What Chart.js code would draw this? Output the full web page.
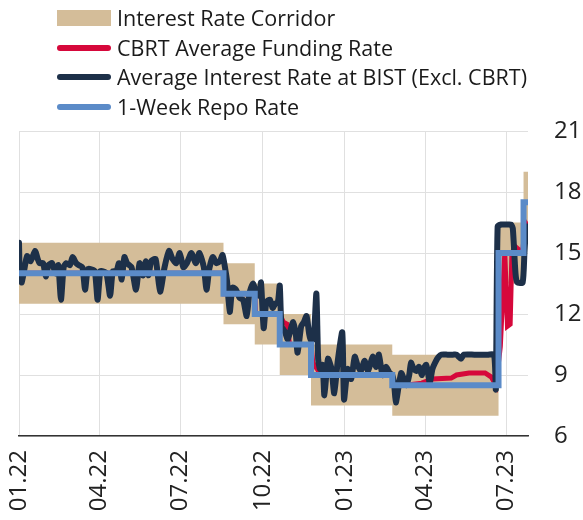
<!DOCTYPE html>
<html>
<head>
<meta charset="utf-8">
<title>Interest rates</title>
<script src="https://cdn.jsdelivr.net/npm/chart.js@4.4.0/dist/chart.umd.min.js"></script>
<style>
  body { margin: 0; background: #fff; }
  #wrap { position: relative; width: 583px; height: 520px; }
  #chart { position: absolute; left: 0; top: 0; }
  .leg { position: absolute; left: 57px; height: 28px; line-height: 28px; white-space: nowrap;
         font-family: 'Open Sans', sans-serif; font-size: 21.5px; color: #1a1a1a; }
  .leg span { position: absolute; left: 0; }
  .leg b { position: absolute; left: 60px; font-weight: normal; }
</style>
</head>
<body>
<div id="wrap">
  <canvas id="chart" width="583" height="520"></canvas>
  <div class="leg" style="top:4px"><span style="top:6px;width:54px;height:16px;background:#d4bd99"></span><b>Interest Rate Corridor</b></div>
  <div class="leg" style="top:34px"><span style="top:11px;width:54px;height:6px;border-radius:3px;background:#d6083b"></span><b>CBRT Average Funding Rate</b></div>
  <div class="leg" style="top:63px"><span style="top:11px;width:54px;height:6px;border-radius:3px;background:#1d3049"></span><b>Average Interest Rate at BIST (Excl. CBRT)</b></div>
  <div class="leg" style="top:93px"><span style="top:11px;width:54px;height:6px;border-radius:3px;background:#5b8bc8"></span><b>1-Week Repo Rate</b></div>
</div>
<script>
// policy steps (value holds until next date)
var stepDates = ['2022-01-01', '2022-08-18', '2022-09-22', '2022-10-20', '2022-11-24', '2023-02-23', '2023-06-22', '2023-07-20', '2023-07-25'];
var corridorLow = [12.5, 11.5, 10.5, 9, 7.5, 7, 13.5, 16, 16];
var corridorHigh = [15.5, 14.5, 13.5, 12, 10.5, 10, 16.5, 19, 19];
var repoRate = [14, 13, 12, 10.5, 9, 8.5, 15, 17.5, 17.5];

var fundingDates = ['2022-01-01', '2022-08-18', '2022-08-19', '2022-09-22', '2022-09-23', '2022-10-20', '2022-10-24', '2022-10-28', '2022-10-31',
  '2022-11-24', '2022-11-26', '2022-12-01', '2022-12-05', '2023-02-23', '2023-02-24', '2023-03-10', '2023-03-28', '2023-04-09', '2023-04-30',
  '2023-05-06', '2023-05-20', '2023-06-07', '2023-06-14', '2023-06-19', '2023-06-24', '2023-06-27', '2023-06-29', '2023-07-02', '2023-07-05',
  '2023-07-07', '2023-07-11', '2023-07-19', '2023-07-22', '2023-07-25'];
var fundingRate = [14, 14, 13, 13, 12, 12, 11.6, 11.5, 10.5,
  10.5, 9.6, 9.3, 9, 9, 8.5, 8.5, 8.6, 8.8, 8.85,
  9, 9.1, 9.1, 8.9, 8.5, 10.4, 13.2, 15, 11.4, 11.5,
  15, 15.3, 15, 16.5, 16.3];

var bistDates = ['2022-01-01', '2022-01-02', '2022-01-04', '2022-01-07', '2022-01-10', '2022-01-14', '2022-01-19', '2022-01-22', '2022-01-24', '2022-01-28',
  '2022-01-31', '2022-02-03', '2022-02-07', '2022-02-11', '2022-02-14', '2022-02-17', '2022-02-20', '2022-02-23', '2022-02-27', '2022-03-02',
  '2022-03-06', '2022-03-09', '2022-03-13', '2022-03-16', '2022-03-19', '2022-03-23', '2022-03-27', '2022-03-30', '2022-04-02', '2022-04-05',
  '2022-04-09', '2022-04-13', '2022-04-16', '2022-04-20', '2022-04-23', '2022-04-26', '2022-04-29', '2022-05-02', '2022-05-07', '2022-05-12',
  '2022-05-16', '2022-05-20', '2022-05-23', '2022-05-26', '2022-05-29', '2022-06-03', '2022-06-08', '2022-06-13', '2022-06-18', '2022-06-22',
  '2022-06-26', '2022-06-30', '2022-07-04', '2022-07-08', '2022-07-13', '2022-07-18', '2022-07-22', '2022-07-27', '2022-07-30', '2022-08-02',
  '2022-08-06', '2022-08-10', '2022-08-14', '2022-08-17', '2022-08-20', '2022-08-22', '2022-08-25', '2022-08-28', '2022-09-01', '2022-09-05',
  '2022-09-09', '2022-09-13', '2022-09-16', '2022-09-20', '2022-09-24', '2022-09-27', '2022-09-29', '2022-10-02', '2022-10-05', '2022-10-09',
  '2022-10-12', '2022-10-15', '2022-10-18', '2022-10-20', '2022-10-22', '2022-10-26', '2022-10-29', '2022-11-01', '2022-11-04', '2022-11-07',
  '2022-11-09', '2022-11-13', '2022-11-16', '2022-11-19', '2022-11-22', '2022-11-24', '2022-11-27', '2022-11-30', '2022-12-02', '2022-12-04',
  '2022-12-07', '2022-12-09', '2022-12-13', '2022-12-17', '2022-12-20', '2022-12-24', '2022-12-29', '2022-12-31', '2023-01-04', '2023-01-08',
  '2023-01-12', '2023-01-15', '2023-01-19', '2023-01-23', '2023-01-27', '2023-02-01', '2023-02-05', '2023-02-08', '2023-02-12', '2023-02-16',
  '2023-02-20', '2023-02-23', '2023-02-25', '2023-02-27', '2023-03-02', '2023-03-05', '2023-03-08', '2023-03-11', '2023-03-14', '2023-03-16',
  '2023-03-19', '2023-03-22', '2023-03-25', '2023-03-28', '2023-03-30', '2023-04-02', '2023-04-04', '2023-04-06', '2023-04-09', '2023-04-13',
  '2023-04-16', '2023-04-19', '2023-04-26', '2023-05-02', '2023-05-06', '2023-05-11', '2023-05-14', '2023-05-26', '2023-06-10', '2023-06-17',
  '2023-06-19', '2023-06-21', '2023-06-25', '2023-07-01', '2023-07-06', '2023-07-08', '2023-07-11', '2023-07-13', '2023-07-19', '2023-07-21',
  '2023-07-23', '2023-07-25'];
var bistRate = [15.5, 13.8, 13.55, 14.2, 14.85, 14.6, 15.1, 14.7, 14.5, 14.5,
  13.85, 14.4, 14.5, 14.0, 14.4, 12.7, 14.3, 14.5, 14.4, 14.8,
  14.5, 14.4, 14.3, 13.2, 14.2, 14.2, 14.1, 12.7, 14.1, 14.1,
  14.0, 12.9, 14.1, 14.1, 14.5, 13.7, 14.8, 14.5, 14.3, 13.2,
  14.5, 13.9, 14.6, 13.9, 14.6, 14.7, 13.1, 14.3, 15.1, 14.7,
  14.5, 15.0, 14.3, 14.5, 15.0, 14.5, 15.0, 14.3, 13.2, 14.2,
  14.8, 14.5, 14.6, 14.9, 14.2, 13.6, 12.1, 13.3, 13.2, 12.8,
  12.7, 11.9, 13.0, 13.5, 13.0, 12.9, 13.55, 11.3, 12.6, 12.7,
  12.3, 12.5, 12.6, 13.4, 11.4, 11.1, 10.75, 11.2, 11.6, 11.0,
  10.1, 11.4, 11.6, 11.9, 11.0, 10.7, 10.8, 13.0, 9.8, 9.3,
  9.5, 8.0, 9.8, 9.3, 8.1, 9.7, 11.1, 7.8, 9.3, 8.8,
  9.9, 9.5, 9.2, 9.7, 9.2, 9.9, 9.4, 10.0, 9.0, 9.4,
  9.1, 9.0, 8.6, 7.65, 8.4, 9.1, 8.8, 8.5, 9.0, 9.6,
  9.3, 9.2, 9.4, 9.0, 9.3, 9.5, 9.1, 8.6, 9.3, 9.7,
  9.9, 10.0, 10.0, 10.0, 10.0, 9.8, 10.0, 10.0, 10.0, 10.0,
  8.3, 16.3, 16.4, 16.4, 16.4, 16.2, 14.0, 13.55, 13.55, 15.0,
  16.3, 16.3];

var tickDates = ['2022-01-01', '2022-04-01', '2022-07-01', '2022-10-01', '2023-01-01', '2023-04-01', '2023-07-01'];
var tickLabels = ['01.22', '04.22', '07.22', '10.22', '01.23', '04.23', '07.23'];

var t0 = Date.parse('2022-01-01');
function day(s) { return (Date.parse(s) - t0) / 86400000; }
function pts(dates, vals) { return dates.map(function (d, i) { return { x: day(d), y: vals[i] }; }); }
var tickDays = tickDates.map(day);

var fontFam = "'Open Sans', sans-serif";

new Chart(document.getElementById('chart'), {
  type: 'line',
  data: {
    datasets: [
      { label: '1-Week Repo Rate', data: pts(stepDates, repoRate), stepped: true,
        borderColor: '#5b8bc8', borderWidth: 6, pointRadius: 0 },
      { label: 'Average Interest Rate at BIST (Excl. CBRT)', data: pts(bistDates, bistRate), tension: 0.2,
        borderColor: '#1d3049', borderWidth: 6, pointRadius: 0, borderJoinStyle: 'round', borderCapStyle: 'round' },
      { label: 'CBRT Average Funding Rate', data: pts(fundingDates, fundingRate),
        borderColor: '#d6083b', borderWidth: 5, pointRadius: 0 },
      { label: 'Corridor high', data: pts(stepDates, corridorHigh), stepped: true,
        borderWidth: 0, borderColor: 'rgba(0,0,0,0)', pointRadius: 0, fill: '+1', backgroundColor: '#d4bd99' },
      { label: 'Corridor low', data: pts(stepDates, corridorLow), stepped: true,
        borderWidth: 0, borderColor: 'rgba(0,0,0,0)', pointRadius: 0, fill: false }
    ]
  },
  options: {
    responsive: false,
    animation: false,
    devicePixelRatio: 1,
    layout: { padding: { left: 19, top: 131, right: 0, bottom: 0 } },
    plugins: { legend: { display: false }, tooltip: { enabled: false } },
    scales: {
      x: {
        type: 'linear', min: 0, max: 570,
        afterBuildTicks: function (scale) { scale.ticks = tickDays.map(function (v) { return { value: v }; }); },
        afterFit: function (scale) { scale.height = 84; },
        grid: { color: '#e0e0e0', drawTicks: false },
        border: { color: '#333', width: 1.5 },
        ticks: {
          minRotation: 90, maxRotation: 90, padding: 14, color: '#222',
          font: { family: fontFam, size: 24 },
          callback: function (v) { var i = tickDays.indexOf(v); return i >= 0 ? tickLabels[i] : ''; }
        }
      },
      y: {
        position: 'right', min: 6, max: 21,
        afterFit: function (scale) { scale.width = 55; },
        grid: { color: '#e0e0e0', drawTicks: false },
        border: { display: false },
        ticks: { stepSize: 3, padding: 26, color: '#222', font: { family: fontFam, size: 24 } }
      }
    }
  }
});
</script>
</body>
</html>
